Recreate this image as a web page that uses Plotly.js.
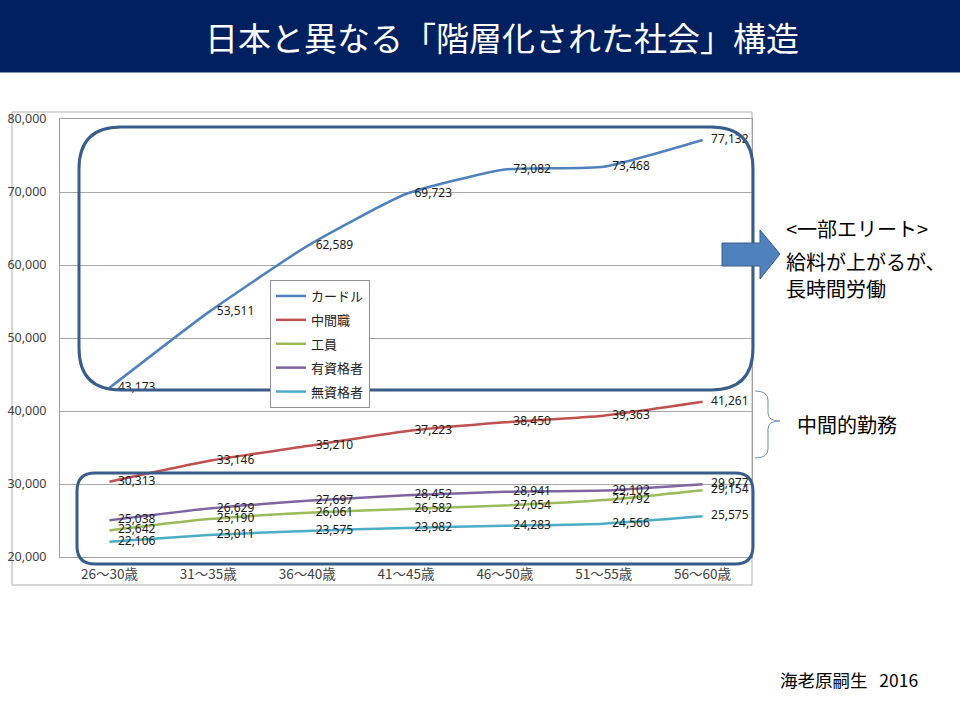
<!DOCTYPE html>
<html>
<head>
<meta charset="utf-8">
<script src="https://cdn.plot.ly/plotly-3.0.1.min.js"></script>
<style>html,body{margin:0;padding:0;background:#fff;}#chart{width:960px;height:720px;}</style>
</head>
<body>
<div id="chart"></div>
<script>
// ---- data ----
const categories = ["26〜30歳","31〜35歳","36〜40歳","41〜45歳","46〜50歳","51〜55歳","56〜60歳"];
const seriesNames = ["カードル","中間職","工員","有資格者","無資格者"];
const cadre      = [43173, 53511, 62589, 69723, 73082, 73468, 77132];
const middle     = [30313, 33146, 35210, 37223, 38450, 39363, 41261];
const worker     = [23642, 25190, 26061, 26582, 27054, 27792, 29154];
const qualified  = [25038, 26629, 27697, 28452, 28941, 29102, 29977];
const unqualified= [22106, 23011, 23575, 23982, 24283, 24566, 25575];
const yTicks = [20000, 30000, 40000, 50000, 60000, 70000, 80000];

// ---- geometry (pixels) ----
const W = 960, H = 720;
const PL = 60, PR = 752, PT = 119, PB = 557;
const px = X => (X - PL) / (PR - PL);
const py = Y => (PB - Y) / (PB - PT);

function roundRect(x0, y0, x1, y1, r) {
  const p = (X, Y) => px(X).toFixed(5) + "," + py(Y).toFixed(5);
  return "M" + p(x0 + r, y0) + " L" + p(x1 - r, y0) + " Q" + p(x1, y0) + " " + p(x1, y0 + r) +
    " L" + p(x1, y1 - r) + " Q" + p(x1, y1) + " " + p(x1 - r, y1) +
    " L" + p(x0 + r, y1) + " Q" + p(x0, y1) + " " + p(x0, y1 - r) +
    " L" + p(x0, y0 + r) + " Q" + p(x0, y0) + " " + p(x0 + r, y0) + " Z";
}
function pathFrom(cmds) {
  return cmds.map(c => {
    if (c.length === 1) return c[0];
    let s = c[0];
    for (let i = 1; i < c.length; i += 2) s += (i > 1 ? " " : "") + px(c[i]).toFixed(5) + "," + py(c[i + 1]).toFixed(5);
    return s;
  }).join(" ");
}

const colors = ["#4F81BD", "#C0504D", "#9BBB59", "#8064A2", "#4BACC6"];
const allSeries = [cadre, middle, worker, qualified, unqualified];

const traces = allSeries.map((vals, i) => ({
  type: "scatter",
  mode: "lines+markers+text",
  name: seriesNames[i],
  legendgroup: "g" + i,
  x: categories,
  y: vals,
  text: vals.map(v => v.toLocaleString("en-US")),
  textposition: "middle right",
  textfont: {family: "Noto Sans, DejaVu Sans, sans-serif", size: 12, color: "#1a1a1a"},
  marker: {size: 12, color: "rgba(0,0,0,0)", line: {width: 0}},
  line: {color: colors[i], width: 2.5, shape: "spline", smoothing: 0.5},
  cliponaxis: false,
  hoverinfo: "skip"
}));

const navy = "#002060";
const outline = "#385D8A";

const shapes = [
  // title bar
  {type: "rect", xref: "paper", yref: "paper", x0: px(0), x1: px(W), y0: py(0), y1: py(72.5),
   fillcolor: navy, line: {width: 0}, layer: "below"},
  // chart outer border
  {type: "rect", xref: "paper", yref: "paper", x0: px(12), x1: px(752), y0: py(112), y1: py(585),
   fillcolor: "rgba(0,0,0,0)", line: {color: "#b0b0b0", width: 1}, layer: "below"},
  // big rounded rect (elite)
  {type: "path", xref: "paper", yref: "paper", path: roundRect(79, 127, 753, 390, 42),
   line: {color: outline, width: 3}, fillcolor: "rgba(0,0,0,0)"},
  // small rounded rect (lower groups)
  {type: "path", xref: "paper", yref: "paper", path: roundRect(77, 473, 753, 564, 18),
   line: {color: outline, width: 3}, fillcolor: "rgba(0,0,0,0)"},
  // block arrow
  {type: "path", xref: "paper", yref: "paper",
   path: pathFrom([["M",722,243],["L",760,243],["L",760,230],["L",780,254],["L",760,279],["L",760,266],["L",722,266],["Z"]]),
   fillcolor: "#4F81BD", line: {color: outline, width: 1}},
  // curly brace
  {type: "path", xref: "paper", yref: "paper",
   path: pathFrom([["M",755,391],["Q",768,391,768,400],["L",768,413],["Q",768,421,780,421],["Q",768,421,768,429],["L",768,449],["Q",768,458,755,458]]),
   fillcolor: "rgba(0,0,0,0)", line: {color: "#6F8FC0", width: 1}}
];

const jp = "Noto Sans CJK JP, sans-serif";
const annotations = [
  {text: "日本と異なる「階層化された社会」構造", x: px(502), y: py(37), xref: "paper", yref: "paper",
   showarrow: false, xanchor: "center", yanchor: "middle", font: {family: jp, size: 33, color: "#ffffff"}},
  {text: "<一部エリート>", x: px(784), y: py(228), xref: "paper", yref: "paper",
   showarrow: false, xanchor: "left", yanchor: "middle", font: {family: jp, size: 20, color: "#000"}},
  {text: "給料が上がるが、", x: px(784), y: py(261), xref: "paper", yref: "paper",
   showarrow: false, xanchor: "left", yanchor: "middle", font: {family: jp, size: 20, color: "#000"}},
  {text: "長時間労働", x: px(784), y: py(288), xref: "paper", yref: "paper",
   showarrow: false, xanchor: "left", yanchor: "middle", font: {family: jp, size: 20, color: "#000"}},
  {text: "中間的勤務", x: px(795), y: py(424), xref: "paper", yref: "paper",
   showarrow: false, xanchor: "left", yanchor: "middle", font: {family: jp, size: 20, color: "#000"}},
  {text: "海老原嗣生&nbsp;&nbsp;&nbsp;2016", x: px(778), y: py(679), xref: "paper", yref: "paper",
   showarrow: false, xanchor: "left", yanchor: "middle", font: {family: jp, size: 17.5, color: "#000"}}
];

const layout = {
  width: W, height: H,
  margin: {l: PL, r: W - PR, t: PT, b: H - PB, pad: 0},
  paper_bgcolor: "#ffffff",
  plot_bgcolor: "#ffffff",
  showlegend: true,
  legend: {
    x: px(270), y: py(280), xanchor: "left", yanchor: "top",
    bgcolor: "#ffffff", bordercolor: "#909090", borderwidth: 1,
    font: {family: jp, size: 13, color: "#222"},
    tracegroupgap: 4, itemwidth: 30
  },
  xaxis: {
    type: "category",
    range: [-0.5, 6.5],
    showgrid: false,
    showline: true, linecolor: "#a0a0a0", linewidth: 1, mirror: true,
    zeroline: false,
    ticks: "",
    tickfont: {family: "Noto Sans CJK JP, sans-serif", size: 13.5, color: "#404040"},
    ticklabelstandoff: 5,
    fixedrange: true
  },
  yaxis: {
    range: [20000, 80000],
    tickvals: yTicks,
    ticktext: yTicks.map(v => v.toLocaleString("en-US")),
    showgrid: true, gridcolor: "#a6a6a6", gridwidth: 1,
    showline: true, linecolor: "#a0a0a0", linewidth: 1, mirror: true,
    zeroline: false,
    ticks: "",
    tickfont: {family: "Noto Sans, DejaVu Sans, sans-serif", size: 12.5, color: "#404040"},
    ticklabelstandoff: 10,
    fixedrange: true
  },
  shapes: shapes,
  annotations: annotations
};

Plotly.newPlot("chart", traces, layout, {displayModeBar: false, staticPlot: true});
</script>
</body>
</html>
